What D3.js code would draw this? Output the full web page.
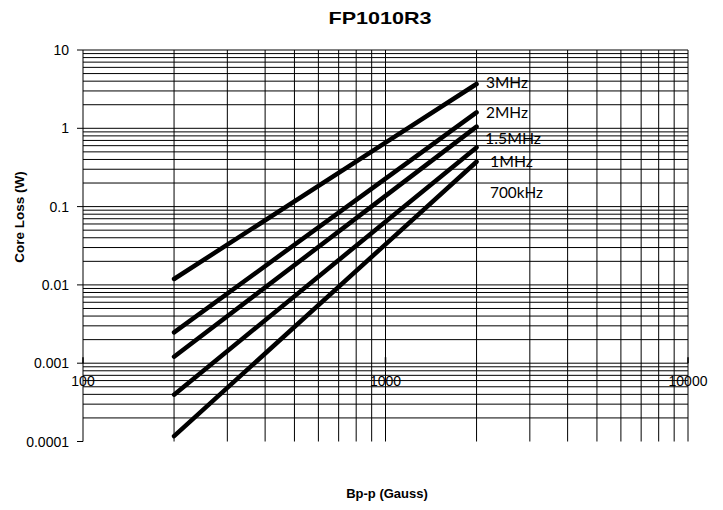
<!DOCTYPE html>
<html><head><meta charset="utf-8">
<script src="https://cdn.jsdelivr.net/npm/d3@7"></script>
<style>html,body{margin:0;padding:0;background:#fff;}</style>
</head><body>
<svg id="chart" width="723" height="510"></svg>
<script>
const title = "FP1010R3";
const xTitle = "Bp-p (Gauss)";
const yTitle = "Core Loss (W)";
const seriesNames = ["3MHz", "2MHz", "1.5MHz", "1MHz", "700kHz"];
const fluxDensity = [200, 1000, 2000];
const loss3MHz   = [0.0119, 0.655, 3.68];
const loss2MHz   = [0.00248, 0.228, 1.6];
const loss1p5MHz = [0.00121, 0.137, 1.05];
const loss1MHz   = [0.000396, 0.064, 0.57];
const loss700kHz = [0.000117, 0.033, 0.374];
const xTickLabels = ["100", "1000", "10000"];
const yTickLabels = ["0.0001", "0.001", "0.01", "0.1", "1", "10"];

const seriesValues = [loss3MHz, loss2MHz, loss1p5MHz, loss1MHz, loss700kHz];

const svg = d3.select("#chart");
const x = d3.scaleLog().domain([100, 10000]).range([83, 688]);
const y = d3.scaleLog().domain([0.0001, 10]).range([441.5, 50]);

// grid
const yGrid = [];
for (let e = -4; e <= 0; e++) for (let m = 1; m <= 9; m++) {
  const v = m * Math.pow(10, e);
  if (v > 0.0001 * 1.0001) yGrid.push(v);
}
yGrid.push(10);
const xGrid = [];
for (let e = 2; e <= 3; e++) for (let m = 1; m <= 9; m++) {
  const v = m * Math.pow(10, e);
  if (v > 100) xGrid.push(v);
}
xGrid.push(10000);

const g = svg.append("g");
g.selectAll("line.hg").data(yGrid).join("line")
  .attr("x1", x(100)).attr("x2", x(10000))
  .attr("y1", d => y(d)).attr("y2", d => y(d))
  .attr("stroke", "#000").attr("stroke-width", 1);
g.selectAll("line.vg").data(xGrid).join("line")
  .attr("y1", y(10)).attr("y2", y(0.0001))
  .attr("x1", d => x(d)).attr("x2", d => x(d))
  .attr("stroke", "#000").attr("stroke-width", 1);

// y axis
g.append("line").attr("x1", x(100)).attr("x2", x(100))
  .attr("y1", y(10)).attr("y2", y(0.0001)).attr("stroke", "#000").attr("stroke-width", 1);
const yTickVals = yTickLabels.map(Number);
g.selectAll("line.yt").data(yTickVals).join("line")
  .attr("x1", x(100) - 6).attr("x2", x(100))
  .attr("y1", d => y(d)).attr("y2", d => y(d))
  .attr("stroke", "#000").attr("stroke-width", 1);
g.selectAll("text.yl").data(yTickLabels).join("text")
  .attr("x", 69).attr("y", d => y(+d)).attr("dy", "0.36em")
  .attr("text-anchor", "end")
  .attr("font-family", "Liberation Sans, Arial, sans-serif")
  .attr("font-size", 14).attr("fill", "#000")
  .text(d => d);

// x axis at 0.001
const xAxisY = y(0.001);
const xTickVals = xTickLabels.map(Number);
g.selectAll("line.xt").data(xTickVals).join("line")
  .attr("x1", d => x(d)).attr("x2", d => x(d))
  .attr("y1", xAxisY - 6).attr("y2", xAxisY)
  .attr("stroke", "#000").attr("stroke-width", 1.5);
g.selectAll("text.xl").data(xTickLabels).join("text")
  .attr("x", d => x(+d)).attr("y", xAxisY + 23)
  .attr("text-anchor", "middle")
  .attr("font-family", "Liberation Sans, Arial, sans-serif")
  .attr("font-size", 14).attr("fill", "#000")
  .text(d => d);

// series lines
const line = d3.line().x(d => x(d[0])).y(d => y(d[1]));
svg.append("g").selectAll("path").data(seriesValues).join("path")
  .attr("d", vals => line(fluxDensity.map((f, i) => [f, vals[i]])))
  .attr("fill", "none").attr("stroke", "#000")
  .attr("stroke-width", 4.5).attr("stroke-linecap", "round");

// series labels
const labelPos = [[486, 88, 42], [486, 118, 42], [485, 144, 56], [490, 167, 43], [490, 198, 53]];
svg.append("g").selectAll("text").data(seriesNames).join("text")
  .attr("x", (d, i) => labelPos[i][0]).attr("y", (d, i) => labelPos[i][1])
  .attr("textLength", (d, i) => labelPos[i][2]).attr("lengthAdjust", "spacingAndGlyphs")
  .attr("font-family", "Lato, 'Open Sans', sans-serif")
  .attr("font-size", 16).attr("fill", "#000")
  .text(d => d);

// titles
svg.append("text").attr("x", 380).attr("y", 24)
  .attr("text-anchor", "middle")
  .attr("textLength", 103).attr("lengthAdjust", "spacingAndGlyphs")
  .attr("font-family", "Liberation Sans, Arial, sans-serif")
  .attr("font-weight", "bold").attr("font-size", 17).text(title);
svg.append("text").attr("x", 387).attr("y", 498)
  .attr("text-anchor", "middle")
  .attr("font-family", "Liberation Sans, Arial, sans-serif")
  .attr("font-weight", "bold").attr("font-size", 13).text(xTitle);
svg.append("text")
  .attr("transform", "translate(24,217) rotate(-90)")
  .attr("text-anchor", "middle")
  .attr("font-family", "Liberation Sans, Arial, sans-serif")
  .attr("font-weight", "bold").attr("font-size", 13.5).text(yTitle);
</script>
</body></html>
